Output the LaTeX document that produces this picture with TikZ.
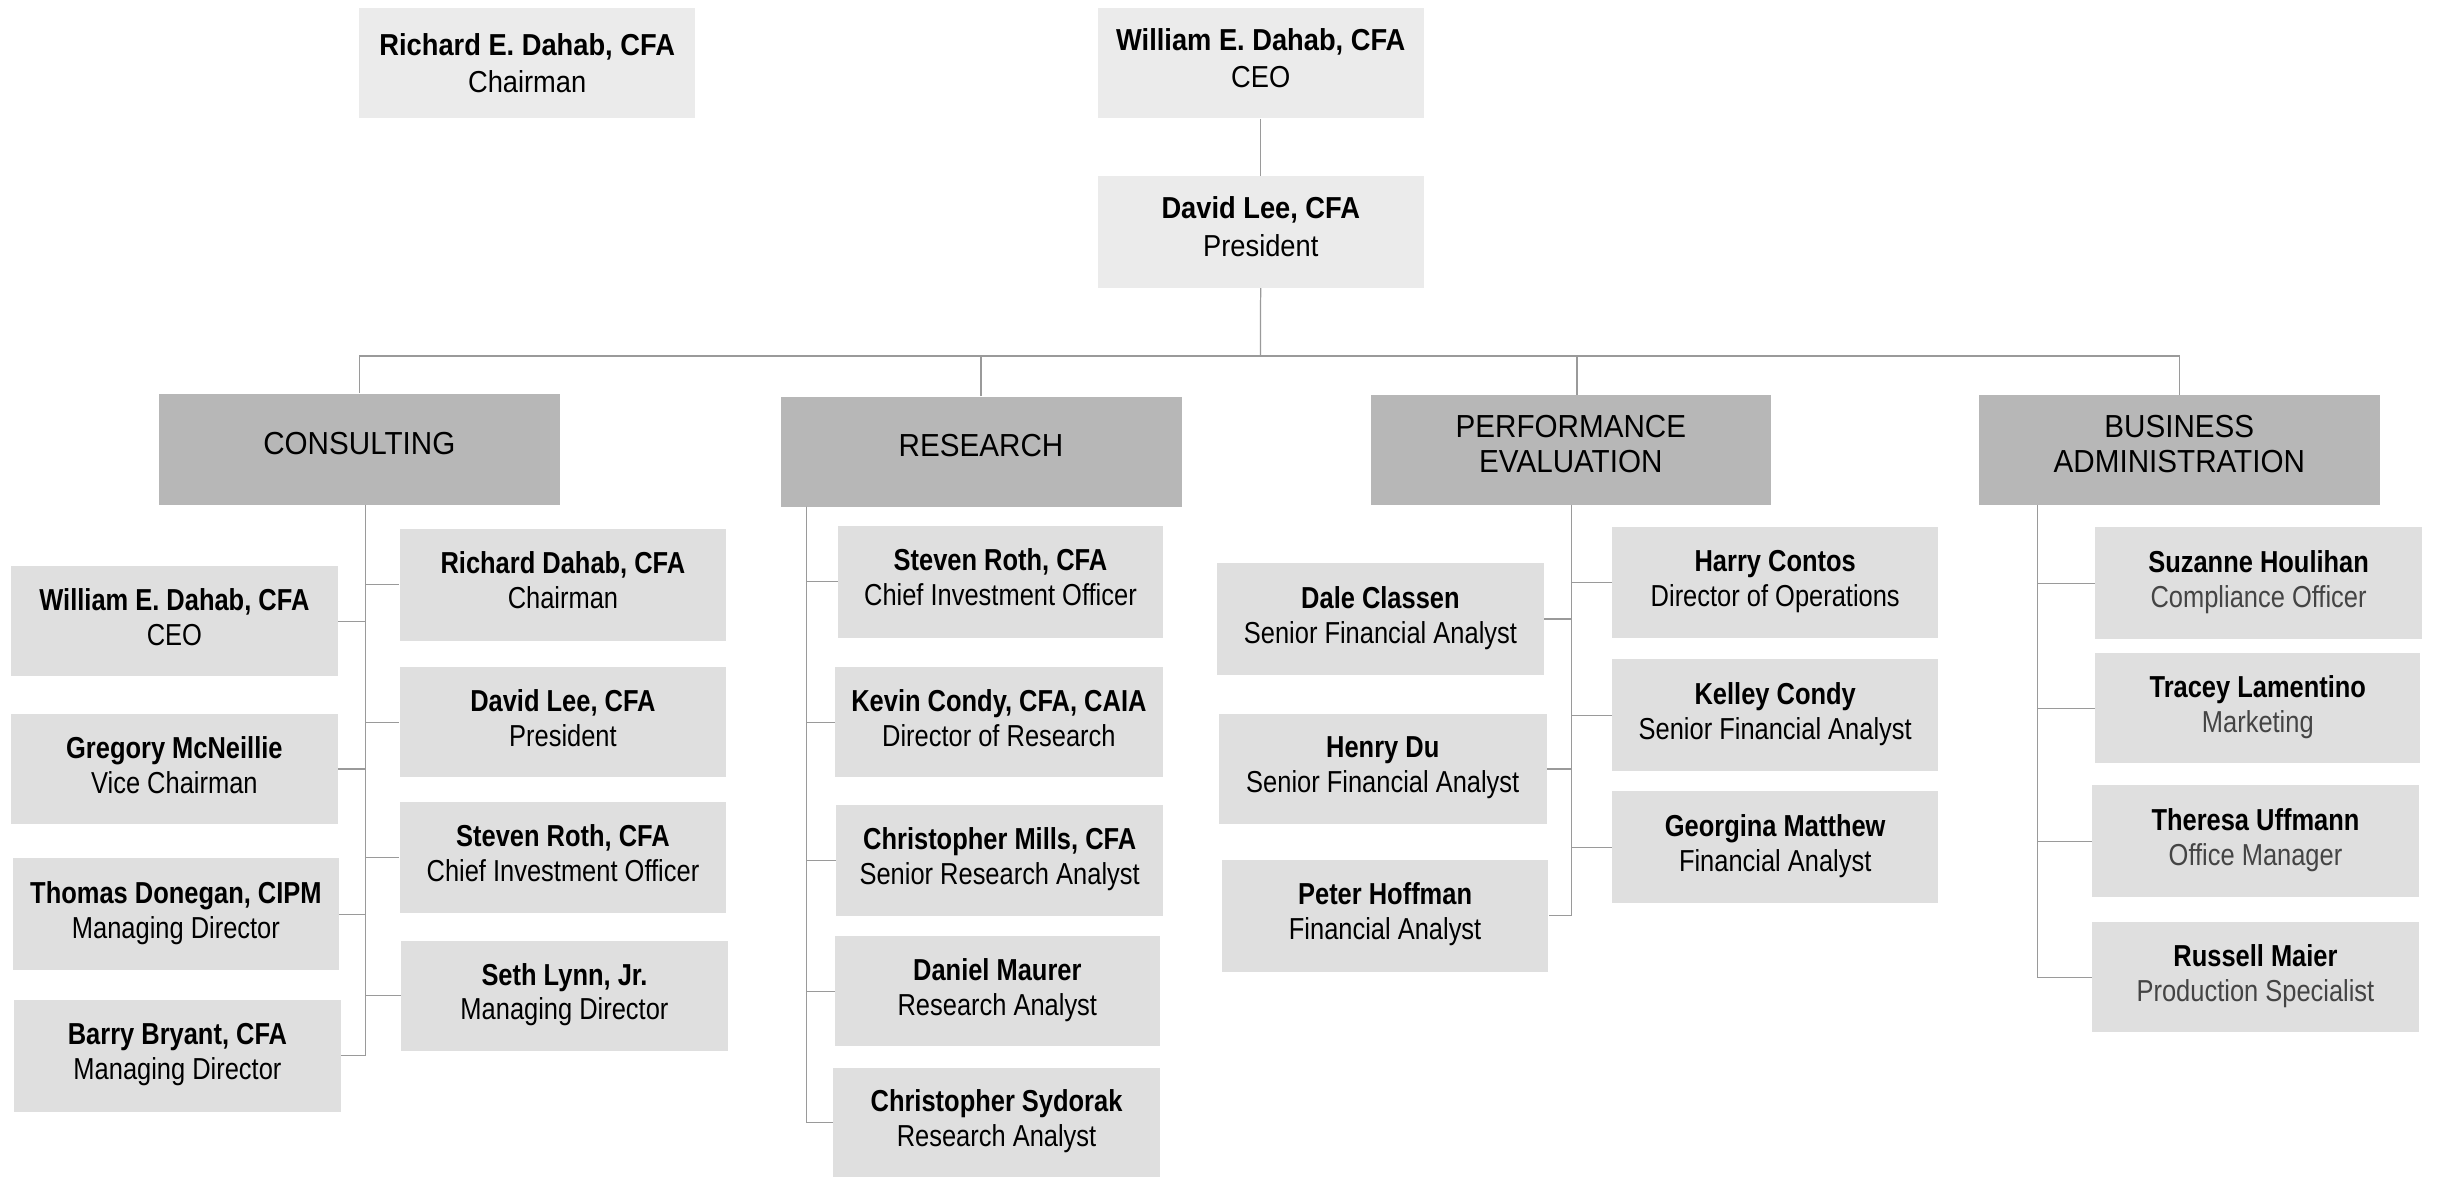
\documentclass[tikz,border=0pt]{standalone}
\usepackage{fontspec}
\setmainfont{Liberation Sans}[FakeStretch=0.84]
\newfontfamily\deptfont{Liberation Sans}[FakeStretch=0.93]
\newfontfamily\topfont{Liberation Sans}[FakeStretch=0.9]
\definecolor{topfill}{HTML}{EBEBEB}
\definecolor{deptfill}{HTML}{B7B7B7}
\definecolor{kidfill}{HTML}{DFDFDF}
\definecolor{linecol}{HTML}{9A9A9A}
\definecolor{ttlgray}{HTML}{444444}
\tikzset{
  base/.style={inner sep=0pt, align=center, text=black},
  topbox/.style={base, fill=topfill, font=\topfont\fontsize{19.5}{24}\selectfont},
  deptbox/.style={base, fill=deptfill, font=\deptfont\fontsize{20.5}{22.5}\selectfont},
  kidbox/.style={base, fill=kidfill, font=\fontsize{19.5}{22.5}\selectfont},
  wire/.style={draw=linecol, line width=0.8pt}
}
\newcommand\pb[7]{\node[#6,anchor=north west,minimum width={#4-#2},minimum height={#5-#3}] (#1) at (#2,#3) {#7};}
\newcommand\gt[1]{\textcolor{ttlgray}{#1}}
\newcommand\up{\\[-14pt]\mbox{}}
\newcommand\kup{\\[-17pt]\mbox{}}
\begin{document}
\begin{tikzpicture}[x=1pt,y=-1pt]
\useasboundingbox (0,0) rectangle (1568,758);
% top
\pb{chair}{231}{5}{447}{76}{topbox}{\textbf{Richard E. Dahab, CFA}\\Chairman}
\pb{ceo}{706}{5}{916}{76}{topbox}{\textbf{William E. Dahab, CFA}\\CEO\kup}
\pb{pres}{706}{113}{916}{185}{topbox}{\textbf{David Lee, CFA}\\President\kup}
% departments
\pb{cons}{102}{253}{360}{325}{deptbox}{CONSULTING\up}
\pb{res}{502}{255}{760}{326}{deptbox}{RESEARCH\up}
\pb{perf}{882}{254}{1139}{325}{deptbox}{PERFORMANCE\\EVALUATION\up}
\pb{ba}{1273}{254}{1531}{325}{deptbox}{BUSINESS\\ADMINISTRATION\up}
% consulting
\pb{c1}{7}{364}{217}{435}{kidbox}{\textbf{William E. Dahab, CFA}\\CEO\kup}
\pb{c2}{7}{459}{217}{530}{kidbox}{\textbf{Gregory McNeillie}\\Vice Chairman\kup}
\pb{c3}{8}{552}{218}{624}{kidbox}{\textbf{Thomas Donegan, CIPM}\\Managing Director\kup}
\pb{c4}{9}{643}{219}{715}{kidbox}{\textbf{Barry Bryant, CFA}\\Managing Director\kup}
\pb{c5}{257}{340}{467}{412}{kidbox}{\textbf{Richard Dahab, CFA}\\Chairman\kup}
\pb{c6}{257}{429}{467}{500}{kidbox}{\textbf{David Lee, CFA}\\President\kup}
\pb{c7}{257}{516}{467}{587}{kidbox}{\textbf{Steven Roth, CFA}\\Chief Investment Officer\kup}
\pb{c8}{258}{605}{468}{676}{kidbox}{\textbf{Seth Lynn, Jr.}\\Managing Director\kup}
% research
\pb{r1}{539}{338}{748}{410}{kidbox}{\textbf{Steven Roth, CFA}\\Chief Investment Officer\kup}
\pb{r2}{537}{429}{748}{500}{kidbox}{\textbf{Kevin Condy, CFA, CAIA}\\Director of Research\kup}
\pb{r3}{538}{518}{748}{589}{kidbox}{\textbf{Christopher Mills, CFA}\\Senior Research Analyst\kup}
\pb{r4}{537}{602}{746}{673}{kidbox}{\textbf{Daniel Maurer}\\Research Analyst\kup}
\pb{r5}{536}{687}{746}{757}{kidbox}{\textbf{Christopher Sydorak}\\Research Analyst\kup}
% performance
\pb{p1}{783}{362}{993}{434}{kidbox}{\textbf{Dale Classen}\\Senior Financial Analyst\kup}
\pb{p2}{784}{459}{995}{530}{kidbox}{\textbf{Henry Du}\\Senior Financial Analyst\kup}
\pb{p3}{786}{553}{996}{625}{kidbox}{\textbf{Peter Hoffman}\\Financial Analyst\kup}
\pb{p4}{1037}{339}{1247}{410}{kidbox}{\textbf{Harry Contos}\\Director of Operations\kup}
\pb{p5}{1037}{424}{1247}{496}{kidbox}{\textbf{Kelley Condy}\\Senior Financial Analyst\kup}
\pb{p6}{1037}{509}{1247}{581}{kidbox}{\textbf{Georgina Matthew}\\Financial Analyst\kup}
% business administration
\pb{b1}{1348}{339}{1558}{411}{kidbox}{\textbf{Suzanne Houlihan}\\\gt{Compliance Officer}\kup}
\pb{b2}{1348}{420}{1557}{491}{kidbox}{\textbf{Tracey Lamentino}\\\gt{Marketing}\kup}
\pb{b3}{1346}{505}{1556}{577}{kidbox}{\textbf{Theresa Uffmann}\\\gt{Office Manager}\kup}
\pb{b4}{1346}{593}{1556}{664}{kidbox}{\textbf{Russell Maier}\\\gt{Production Specialist}\kup}
% connectors top
\coordinate (hub) at (811,229);
\draw[wire] (ceo) -- (pres);
\draw[wire] (pres) -- (hub);
\draw[wire] (cons.north) |- (hub);
\draw[wire] (res.north) |- (hub);
\draw[wire] ([xshift=4pt]perf.north) |- (hub);
\draw[wire] (ba.north) |- (hub);
% trunks
\coordinate (cs) at (235,325);
\coordinate (rs) at (519,326);
\coordinate (ps) at (1011,325);
\coordinate (bs) at (1311,325);
\foreach \k in {c1,c2,c3,c4} \draw[wire] (cs) |- (\k.east);
\foreach \k in {c5,c6,c7,c8} \draw[wire] (cs) |- (\k.west);
\foreach \k in {r1,r2,r3,r4,r5} \draw[wire] (rs) |- (\k.west);
\foreach \k in {p1,p2,p3} \draw[wire] (ps) |- (\k.east);
\foreach \k in {p4,p5,p6} \draw[wire] (ps) |- (\k.west);
\foreach \k in {b1,b2,b3,b4} \draw[wire] (bs) |- (\k.west);
\end{tikzpicture}
\end{document}
